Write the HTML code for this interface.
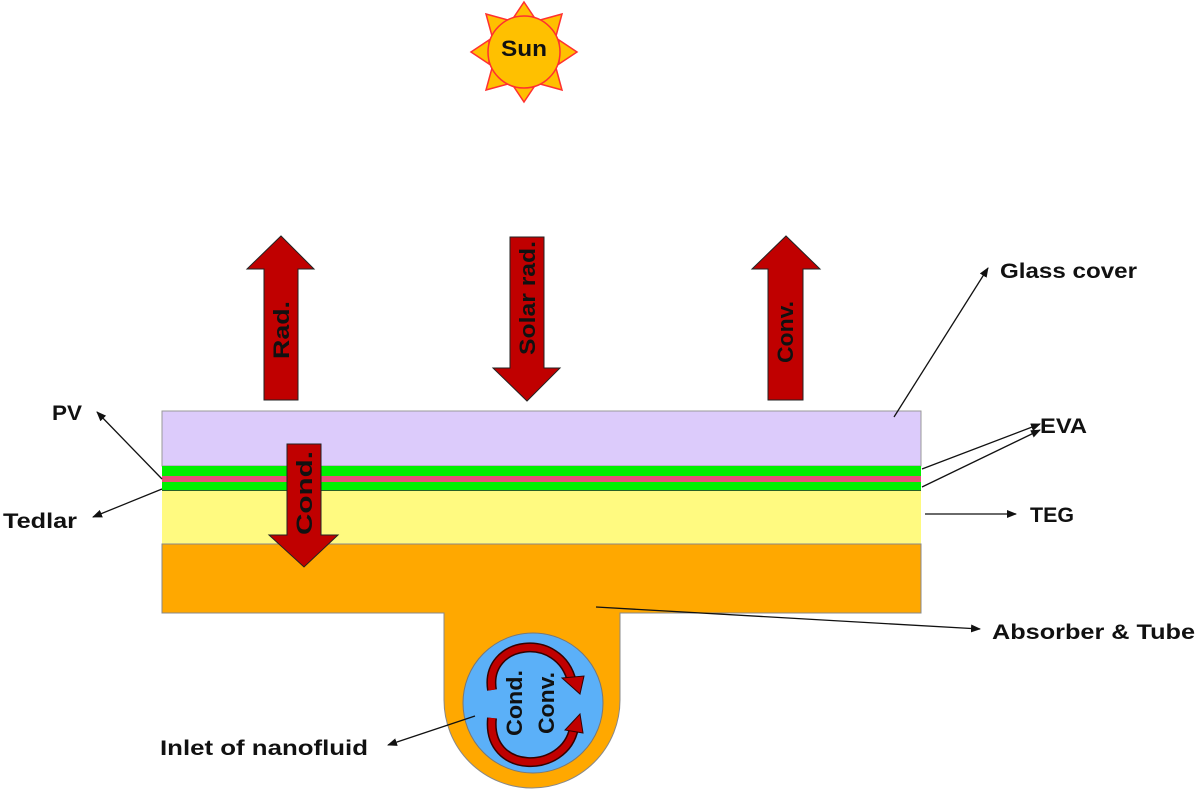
<!DOCTYPE html>
<html><head><meta charset="utf-8"><style>
html,body{margin:0;padding:0;background:#fff;}
svg{display:block;}
text{font-family:"Liberation Sans",sans-serif;font-weight:bold;fill:#111;}
</style></head><body>
<svg width="1200" height="793" viewBox="0 0 1200 793" xmlns="http://www.w3.org/2000/svg">
<defs>
<marker id="ah" markerWidth="10" markerHeight="8" refX="9" refY="4" orient="auto" markerUnits="userSpaceOnUse">
<path d="M0,0 L10,4 L0,8 Z" fill="#111"/>
</marker>
</defs>
<!-- Sun -->
<g fill="#FFC000" stroke="#FF3030" stroke-width="1.5">
<polygon points="524,2 536,20 512,20"/>
<polygon points="524,102 536,84 512,84"/>
<polygon points="471,52 489,40 489,64"/>
<polygon points="577,52 559,40 559,64"/>
<polygon points="486,14 508,20 492,36"/>
<polygon points="562,14 540,20 556,36"/>
<polygon points="486,90 508,84 492,68"/>
<polygon points="562,90 540,84 556,68"/>
<circle cx="524" cy="52" r="36"/>
</g>
<text x="524" y="56" font-size="22" text-anchor="middle" textLength="46" lengthAdjust="spacingAndGlyphs">Sun</text>

<!-- Layers -->
<rect x="162" y="411" width="759" height="55" fill="#DCCBFB" stroke="#999" stroke-width="1"/>
<rect x="162" y="466" width="759" height="10" fill="#00F000"/>
<rect x="162" y="476" width="759" height="6" fill="#E8507A"/>
<rect x="162" y="482" width="759" height="9" fill="#00F000"/>
<line x1="162" y1="491" x2="921" y2="491" stroke="#333" stroke-width="1.5"/>
<rect x="162" y="491" width="759" height="53" fill="#FFFA80"/>
<line x1="162" y1="544" x2="921" y2="544" stroke="#777" stroke-width="1"/>
<!-- Absorber + tube -->
<path d="M162,544 H921 V613 H620 V700 A88,88 0 0 1 444,700 V613 H162 Z" fill="#FFA800" stroke="#888" stroke-width="1"/>
<circle cx="533" cy="703" r="70" fill="#5BB0F8" stroke="#777" stroke-width="1"/>

<!-- circular arrows -->
<g fill="none" stroke-linecap="butt">
<path d="M492,690 C484,640 560,630 572,682" stroke="#300" stroke-width="10"/>
<path d="M492,690 C484,640 560,630 572,682" stroke="#C00000" stroke-width="7"/>
<path d="M492,718 C486,775 565,775 574,728" stroke="#300" stroke-width="10"/>
<path d="M492,718 C486,775 565,775 574,728" stroke="#C00000" stroke-width="7"/>
</g>
<polygon points="562,678 584,676 580,694" fill="#C00000" stroke="#300" stroke-width="1"/>
<polygon points="565,730 583,733 580,714" fill="#C00000" stroke="#300" stroke-width="1"/>
<text transform="translate(522,703) rotate(-90)" font-size="22" text-anchor="middle" textLength="66" lengthAdjust="spacingAndGlyphs">Cond.</text>
<text transform="translate(554,703) rotate(-90)" font-size="22" text-anchor="middle" textLength="62" lengthAdjust="spacingAndGlyphs">Conv.</text>

<!-- Big arrows -->
<g fill="#C00000" stroke="#222" stroke-width="1">
<polygon points="264,400 298,400 298,269 314,269 281,236 247,269 264,269"/>
<polygon points="510,237 544,237 544,368 560,368 527,401 493,368 510,368"/>
<polygon points="768,400 803,400 803,269 820,269 786,236 752,269 768,269"/>
<polygon points="287,444 321,444 321,535 338,535 304,567 269,535 287,535"/>
</g>
<text transform="translate(289,330) rotate(-90)" font-size="22" text-anchor="middle" textLength="58" lengthAdjust="spacingAndGlyphs">Rad.</text>
<text transform="translate(535,298) rotate(-90)" font-size="22" text-anchor="middle" textLength="114" lengthAdjust="spacingAndGlyphs">Solar rad.</text>
<text transform="translate(793,332) rotate(-90)" font-size="22" text-anchor="middle" textLength="62" lengthAdjust="spacingAndGlyphs">Conv.</text>
<text transform="translate(312,493) rotate(-90)" font-size="22" text-anchor="middle" textLength="84" lengthAdjust="spacingAndGlyphs">Cond.</text>

<!-- leader lines -->
<g stroke="#111" stroke-width="1.3" fill="none" marker-end="url(#ah)">
<line x1="894" y1="417" x2="988" y2="268"/>
<line x1="922" y1="469" x2="1040" y2="424"/>
<line x1="922" y1="487" x2="1040" y2="430"/>
<line x1="925" y1="514" x2="1016" y2="514"/>
<line x1="596" y1="607" x2="980" y2="629"/>
<line x1="162" y1="479" x2="97" y2="412"/>
<line x1="162" y1="489" x2="93" y2="517"/>
<line x1="475" y1="716" x2="388" y2="745"/>
</g>

<text x="1000" y="278" font-size="21" textLength="137" lengthAdjust="spacingAndGlyphs">Glass cover</text>
<text x="1040" y="433" font-size="21" textLength="47" lengthAdjust="spacingAndGlyphs">EVA</text>
<text x="1030" y="522" font-size="21" textLength="44" lengthAdjust="spacingAndGlyphs">TEG</text>
<text x="992" y="639" font-size="21" textLength="203" lengthAdjust="spacingAndGlyphs">Absorber &amp; Tube</text>
<text x="52" y="420" font-size="21" textLength="30" lengthAdjust="spacingAndGlyphs">PV</text>
<text x="3" y="528" font-size="21" textLength="74" lengthAdjust="spacingAndGlyphs">Tedlar</text>
<text x="160" y="755" font-size="21" textLength="208" lengthAdjust="spacingAndGlyphs">Inlet of nanofluid</text>
</svg>
</body></html>
